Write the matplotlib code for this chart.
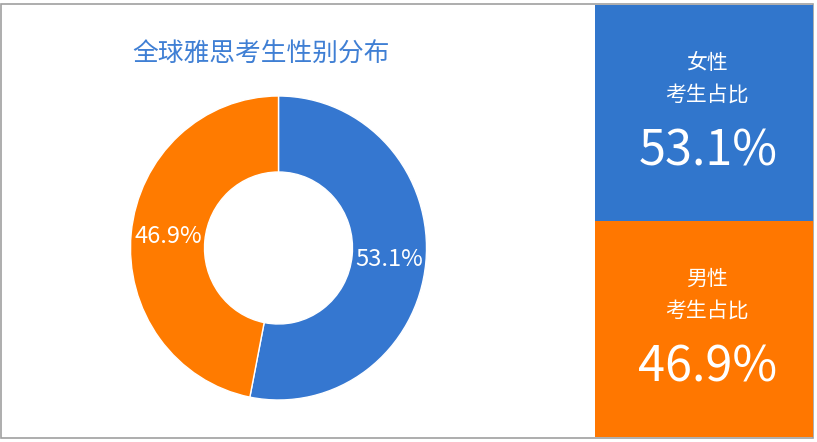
import matplotlib

matplotlib.use('Agg')
import matplotlib.pyplot as plt
from matplotlib.patches import Rectangle

plt.rcParams['font.family'] = ['Noto Sans CJK SC', 'DejaVu Sans']

# 数据
title = '全球雅思考生性别分布'
genders = ['女性', '男性']
shares = [53.1, 46.9]
panel_caption = '考生占比'
colors = ['#3577D0', '#FF7B00']
panel_colors = ['#3176CC', '#FF7700']

W, H = 817, 442
fig = plt.figure(figsize=(W / 100, H / 100), dpi=100)
fig.patch.set_facecolor('white')

# 外框
fig.patches.append(Rectangle((1 / W, 1 - 438 / H), 812 / W, 434 / H,
                             transform=fig.transFigure, fill=False,
                             edgecolor='#A0A0A0', linewidth=1.2))

# 环形图
cx, cy, rx, ry = 278.5, 248, 148, 152
ax = fig.add_axes([(cx - rx) / W, 1 - (cy + ry) / H, 2 * rx / W, 2 * ry / H])
wedges, texts, autotexts = ax.pie(shares, colors=colors, startangle=90, counterclock=False,
                                  radius=1, autopct='%.1f%%', pctdistance=0.75,
                                  wedgeprops=dict(width=0.5, edgecolor='white', linewidth=1),
                                  textprops=dict(color='white', fontsize=17, weight='light'))
ax.set_xlim(-1, 1)
ax.set_ylim(-1, 1)
ax.set_aspect('auto')

fig.text(261 / W, 1 - 55 / H, title, color='#3F7FD4', fontsize=18.5,
         ha='center', va='center')

# 右侧占比面板
panel_tops = [5, 221]
for g, s, pc, top in zip(genders, shares, panel_colors, panel_tops):
    fig.patches.append(Rectangle((595 / W, 1 - (top + 216) / H), 218 / W, 216 / H,
                                 transform=fig.transFigure, facecolor=pc,
                                 edgecolor='none'))
    fig.text(707 / W, 1 - (top + 58) / H, g, color='white', fontsize=15,
             ha='center', va='center', weight='light')
    fig.text(707 / W, 1 - (top + 90) / H, panel_caption, color='white', fontsize=15,
             ha='center', va='center', weight='light')
    fig.text(708 / W, 1 - (top + 147) / H, f'{s:.1f}%', color='white', fontsize=35,
             ha='center', va='center', weight='light')

fig.savefig('out.png', dpi=100)
